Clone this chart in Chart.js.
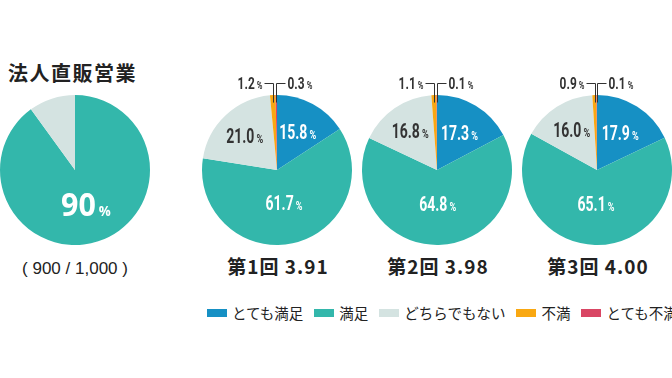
<!DOCTYPE html>
<html><head><meta charset="utf-8">
<script src="https://cdn.jsdelivr.net/npm/chart.js@4"></script>
<style>
html,body{margin:0;padding:0;background:#fff;width:672px;height:378px;overflow:hidden;font-family:"Noto Sans CJK JP","Noto Sans",sans-serif;color:#222}
.abs{position:absolute}
canvas{position:absolute}
.title{font-weight:700;font-size:20px;letter-spacing:1.5px;white-space:nowrap}
.rtitle{font-weight:700;font-size:19px;white-space:nowrap;transform:translateX(-50%);letter-spacing:1px}
.count{font-size:17px;white-space:nowrap;transform:translateX(-50%);font-family:"Liberation Sans","Noto Sans",sans-serif}
#legend{position:absolute;left:207px;top:302px;display:flex;align-items:center;white-space:nowrap;font-size:14.5px;color:#222}
#legend .it{display:flex;align-items:center;margin-right:11px}
#legend .bx{width:20px;height:8px;margin-right:5px}
</style></head><body>
<div class="abs title" style="left:8px;top:58px">法人直販営業</div>
<canvas id="c0" width="150" height="150" style="left:0;top:95px"></canvas>
<div class="abs count" style="left:75px;top:259px">( 900 / 1,000 )</div>
<canvas id="c1" width="160" height="195" style="left:197px;top:55px"></canvas>
<canvas id="c2" width="160" height="195" style="left:357px;top:55px"></canvas>
<canvas id="c3" width="160" height="195" style="left:517px;top:55px"></canvas>
<div id="t1" class="abs rtitle" style="left:278px;top:252px"></div>
<div id="t2" class="abs rtitle" style="left:438px;top:252px"></div>
<div id="t3" class="abs rtitle" style="left:598px;top:252px"></div>
<div id="legend"></div>
<script>
// ---- data ----
const corpTitle = '法人直販営業';
const corpLabels = ['満足', 'その他'];
const corpValues = [90, 10];
const corpCount = '( 900 / 1,000 )';

const categories = ['とても満足', '満足', 'どちらでもない', '不満', 'とても不満'];
const round1 = [15.8, 61.7, 21.0, 1.2, 0.3];
const round2 = [17.3, 64.8, 16.8, 1.1, 0.1];
const round3 = [17.9, 65.1, 16.0, 0.9, 0.1];
const roundTitles = ['第1回 3.91', '第2回 3.98', '第3回 4.00'];

// ---- style ----
const colors = ['#1690c4', '#33b7ab', '#d4e3e1', '#f9a812', '#d94664'];
const corpColors = ['#33b7ab', '#d4e3e1'];
const labelRadius = [0.58, 0.45, 0.63];
const labelColor = ['#ffffff', '#ffffff', '#333333'];

function drawPct(ctx, x, y, num, big, small, color, sx, align) {
  ctx.save();
  ctx.translate(x, y);
  ctx.scale(sx, 1);
  ctx.fillStyle = color;
  ctx.textBaseline = 'alphabetic';
  ctx.font = big;
  const w1 = ctx.measureText(num).width;
  ctx.font = small;
  const w2 = ctx.measureText('%').width;
  const gap = 3;
  const tw = w1 + gap + w2;
  let x0 = -tw / 2;
  if (align === 'left') x0 = 0;
  if (align === 'right') x0 = -tw;
  ctx.font = big;
  ctx.textAlign = 'left';
  ctx.fillText(num, x0, 0);
  ctx.font = small;
  ctx.fillText('%', x0 + w1 + gap, 0);
  ctx.restore();
}

const roundLabelPlugin = {
  id: 'roundLabels',
  afterDatasetsDraw(chart) {
    const ctx = chart.ctx;
    const meta = chart.getDatasetMeta(0);
    const data = chart.data.datasets[0].data;
    meta.data.forEach((arc, i) => {
      const p = arc.getProps(['x', 'y', 'startAngle', 'endAngle', 'outerRadius'], true);
      const mid = (p.startAngle + p.endAngle) / 2;
      const txt = data[i].toFixed(1);
      if (i < 3) {
        const r = p.outerRadius * labelRadius[i];
        const lx = p.x + Math.cos(mid) * r;
        const ly = p.y + Math.sin(mid) * r;
        drawPct(ctx, lx, ly + 7, txt, '700 20px Roboto', '700 13px Roboto', labelColor[i], 0.7, 'center');
      } else {
        const ax = p.x + Math.cos(mid) * p.outerRadius * 0.9;
        const ay = p.y + Math.sin(mid) * p.outerRadius * 0.9;
        const topY = p.y - p.outerRadius - 12;
        const dir = i === 3 ? -1 : 1;
        ctx.save();
        ctx.strokeStyle = '#333';
        ctx.lineWidth = 1;
        ctx.beginPath();
        const xx = Math.round(ax) + 0.5;
        ctx.moveTo(xx, ay);
        ctx.lineTo(xx, topY + 0.5);
        ctx.lineTo(xx + dir * 9, topY + 0.5);
        ctx.stroke();
        ctx.restore();
        drawPct(ctx, xx + dir * 11, topY + 6, txt, '700 17px Roboto', '700 11px Roboto', '#333333', 0.7, i === 3 ? 'right' : 'left');
      }
    });
  }
};

const corpLabelPlugin = {
  id: 'corpLabel',
  afterDatasetsDraw(chart) {
    const ctx = chart.ctx;
    const arc = chart.getDatasetMeta(0).data[0];
    const p = arc.getProps(['x', 'y', 'startAngle', 'endAngle', 'outerRadius'], true);
    const mid = (p.startAngle + p.endAngle) / 2;
    const r = p.outerRadius * 0.47;
    drawPct(ctx, p.x + Math.cos(mid) * r, p.y + Math.sin(mid) * r + 12, String(chart.data.datasets[0].data[0]), '700 32px "Open Sans"', '700 14px "Open Sans"', '#ffffff', 0.95, 'center');
  }
};

const baseOpts = {
  responsive: false,
  devicePixelRatio: 1,
  animation: false,
  events: [],
  plugins: { legend: { display: false }, tooltip: { enabled: false } }
};

new Chart(document.getElementById('c0'), {
  type: 'pie',
  data: { labels: corpLabels, datasets: [{ data: corpValues, backgroundColor: corpColors, borderWidth: 0 }] },
  options: Object.assign({}, baseOpts, { layout: { padding: 0 } }),
  plugins: [corpLabelPlugin]
});

[round1, round2, round3].forEach((vals, k) => {
  new Chart(document.getElementById('c' + (k + 1)), {
    type: 'pie',
    data: { labels: categories, datasets: [{ data: vals, backgroundColor: colors, borderWidth: 0 }] },
    options: Object.assign({}, baseOpts, { layout: { padding: { top: 40, bottom: 5, left: 5, right: 5 } } }),
    plugins: [roundLabelPlugin]
  });
  document.getElementById('t' + (k + 1)).textContent = roundTitles[k];
});

const lg = document.getElementById('legend');
categories.forEach((c, i) => {
  const it = document.createElement('div');
  it.className = 'it';
  const b = document.createElement('div');
  b.className = 'bx';
  b.style.background = colors[i];
  const s = document.createElement('span');
  s.textContent = c;
  it.appendChild(b); it.appendChild(s);
  lg.appendChild(it);
});
</script>
</body></html>
